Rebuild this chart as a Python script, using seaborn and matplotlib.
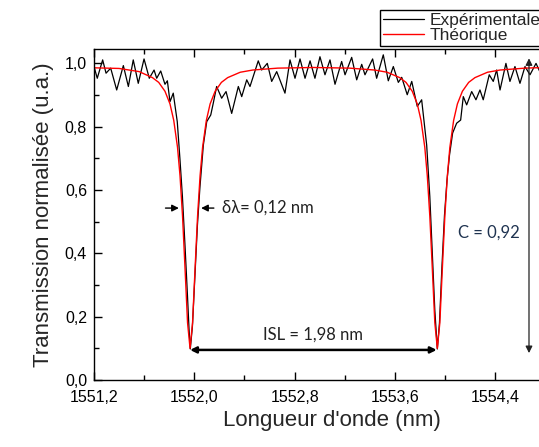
import matplotlib
matplotlib.use('Agg')
import matplotlib.pyplot as plt
import seaborn as sns
import pandas as pd
from matplotlib.ticker import FuncFormatter, MultipleLocator

exp_wl = [1551.200, 1551.226, 1551.269, 1551.296, 1551.333, 1551.381, 1551.434, 1551.474,
          1551.513, 1551.553, 1551.599, 1551.641, 1551.679, 1551.700, 1551.732, 1551.766,
          1551.785, 1551.806, 1551.832, 1551.864, 1551.885, 1551.905, 1551.925, 1551.945,
          1551.958, 1551.968, 1551.985, 1552.005, 1552.025, 1552.045, 1552.072, 1552.099,
          1552.131, 1552.151, 1552.178, 1552.218, 1552.253, 1552.298, 1552.351, 1552.378,
          1552.418, 1552.444, 1552.510, 1552.537, 1552.582, 1552.617, 1552.657, 1552.723,
          1552.763, 1552.803, 1552.843, 1552.883, 1552.923, 1552.962, 1553.002, 1553.042,
          1553.082, 1553.122, 1553.175, 1553.202, 1553.255, 1553.295, 1553.335, 1553.361,
          1553.422, 1553.454, 1553.507, 1553.547, 1553.587, 1553.627, 1553.654, 1553.698,
          1553.734, 1553.778, 1553.813, 1553.853, 1553.878, 1553.898, 1553.918, 1553.938,
          1553.955, 1553.975, 1553.995, 1554.015, 1554.035, 1554.060, 1554.092, 1554.124,
          1554.145, 1554.172, 1554.212, 1554.246, 1554.278, 1554.304, 1554.352, 1554.384,
          1554.411, 1554.438, 1554.485, 1554.517, 1554.557, 1554.597, 1554.637, 1554.677,
          1554.725, 1554.760]
exp_T = [0.990, 0.953, 1.011, 0.969, 0.985, 0.916, 0.993, 0.927,
         1.011, 0.937, 1.014, 0.953, 0.979, 0.953, 0.976, 0.934,
         0.945, 0.879, 0.906, 0.816, 0.700, 0.580, 0.430, 0.270,
         0.160, 0.098, 0.170, 0.330, 0.490, 0.610, 0.742, 0.816,
         0.837, 0.874, 0.927, 0.890, 0.911, 0.842, 0.927, 0.895,
         0.948, 0.927, 1.008, 0.979, 1.000, 0.943, 0.974, 0.906,
         1.011, 0.953, 1.014, 0.953, 1.008, 0.953, 1.021, 0.964,
         1.011, 0.934, 1.006, 0.964, 1.019, 0.948, 0.997, 0.964,
         1.014, 0.953, 1.027, 0.945, 0.990, 0.940, 0.956, 0.901,
         0.943, 0.864, 0.885, 0.742, 0.580, 0.400, 0.220, 0.098,
         0.180, 0.360, 0.520, 0.630, 0.710, 0.780, 0.811, 0.821,
         0.895, 0.869, 0.911, 0.885, 0.916, 0.885, 0.964, 0.943,
         0.979, 0.916, 1.000, 0.943, 0.990, 0.937, 0.990, 0.964,
         1.000, 0.970]

# Theoretical transmission
th_wl = [1551.200, 1551.400, 1551.560, 1551.666, 1551.716, 1551.766, 1551.806, 1551.836,
         1551.866, 1551.886, 1551.906, 1551.926, 1551.946, 1551.966, 1551.986, 1552.006,
         1552.026, 1552.046, 1552.066, 1552.096, 1552.126, 1552.166, 1552.216, 1552.266,
         1552.366, 1552.466, 1552.666, 1552.952, 1553.238, 1553.438, 1553.538, 1553.638,
         1553.688, 1553.738, 1553.778, 1553.808, 1553.838, 1553.858, 1553.878, 1553.898,
         1553.918, 1553.938, 1553.958, 1553.978, 1553.998, 1554.018, 1554.038, 1554.068,
         1554.098, 1554.138, 1554.188, 1554.238, 1554.338, 1554.438, 1554.638, 1554.800]
th_T = [0.986, 0.984, 0.974, 0.955, 0.940, 0.912, 0.872, 0.820,
        0.735, 0.645, 0.518, 0.352, 0.181, 0.100, 0.181, 0.352,
        0.518, 0.645, 0.735, 0.820, 0.872, 0.912, 0.940, 0.955,
        0.972, 0.979, 0.985, 0.987, 0.985, 0.979, 0.972, 0.955,
        0.940, 0.912, 0.872, 0.820, 0.735, 0.645, 0.518, 0.352,
        0.181, 0.100, 0.181, 0.352, 0.518, 0.645, 0.735, 0.820,
        0.872, 0.912, 0.940, 0.955, 0.972, 0.979, 0.985, 0.987]

x_ticks = [1551.2, 1552.0, 1552.8, 1553.6, 1554.4]
y_ticks = [0.0, 0.2, 0.4, 0.6, 0.8, 1.0]

sns.set_theme(style='ticks')
plt.rcParams['font.family'] = ['Liberation Sans', 'DejaVu Sans']

fig = plt.figure(figsize=(5.39, 4.47), dpi=100)
ax = fig.add_axes([94 / 539, 67 / 447, 476.5 / 539, 331.5 / 447])

df_exp = pd.DataFrame({'wl': exp_wl, 'T': exp_T})
df_th = pd.DataFrame({'wl': th_wl, 'T': th_T})
sns.lineplot(data=df_exp, x='wl', y='T', color='black', lw=0.9, ax=ax,
             label='Expérimentale', sort=False, estimator=None)
sns.lineplot(data=df_th, x='wl', y='T', color='#ff0000', lw=1.0, ax=ax,
             label='Théorique', sort=False, estimator=None)

ax.set_xlim(1551.2, 1555.0)
ax.set_ylim(0.0, 1.047)
ax.set_xticks(x_ticks)
ax.set_yticks(y_ticks)
ax.xaxis.set_minor_locator(MultipleLocator(0.4))
ax.yaxis.set_minor_locator(MultipleLocator(0.1))
fmt = FuncFormatter(lambda v, p: f"{v:.1f}".replace('.', ','))
ax.xaxis.set_major_formatter(fmt)
ax.yaxis.set_major_formatter(fmt)
ax.tick_params(which='major', direction='in', top=True, right=False, length=6,
               width=1, labelsize=11.5, pad=5, colors='black')
ax.tick_params(axis='x', which='major', pad=7.5)
ax.tick_params(which='minor', direction='in', top=True, right=False, length=3.5,
               width=1, colors='black')
for s in ax.spines.values():
    s.set_color('black')
    s.set_linewidth(1.0)

ax.set_xlabel("Longueur d'onde (nm)", fontsize=16, labelpad=3)
ax.set_ylabel("Transmission normalisée (u.a.)", fontsize=16, labelpad=8)

leg = ax.legend(loc='lower left', bbox_to_anchor=(0.600, 1.0075), frameon=True,
                fancybox=False, edgecolor='black', framealpha=1, fontsize=12.5,
                handlelength=2.4, handletextpad=0.3, labelspacing=0.02,
                borderpad=0.15, borderaxespad=0)
leg.get_frame().set_linewidth(1.0)

ann_font = ['Lato', 'DejaVu Sans']
# delta lambda arrows
ax.annotate('', xy=(1551.899, 0.543), xytext=(1551.748, 0.543),
            arrowprops=dict(arrowstyle='-|>', color='black', lw=1, mutation_scale=10))
ax.annotate('', xy=(1552.032, 0.543), xytext=(1552.178, 0.543),
            arrowprops=dict(arrowstyle='-|>', color='black', lw=1, mutation_scale=10))
ax.text(1552.218, 0.543, 'δλ= 0,12 nm', fontsize=12, family=ann_font,
        color='#222222', va='center', ha='left')

# ISL arrow
ax.annotate('', xy=(1551.966, 0.095), xytext=(1553.933, 0.095),
            arrowprops=dict(arrowstyle='<|-|>', color='black', lw=1.8, mutation_scale=9,
                            shrinkA=0, shrinkB=0))
ax.text(1552.95, 0.142, 'ISL = 1,98 nm', fontsize=12, family=ann_font,
        color='#222222', va='center', ha='center')

# Contrast arrow
ax.annotate('', xy=(1554.669, 0.085), xytext=(1554.669, 1.016),
            arrowprops=dict(arrowstyle='<|-|>', color='#222222', lw=0.9, mutation_scale=10,
                            shrinkA=0, shrinkB=0))
ax.text(1554.35, 0.467, 'C = 0,92', fontsize=12, family=ann_font,
        color='#1f3350', va='center', ha='center')

fig.savefig('out.png', dpi=100)
